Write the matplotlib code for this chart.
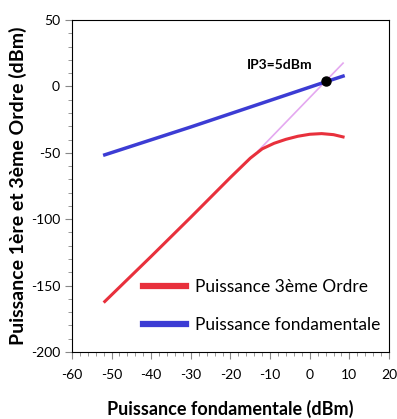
import numpy as np
import matplotlib
matplotlib.use("Agg")
import matplotlib.pyplot as plt
from matplotlib.ticker import MultipleLocator

plt.rcParams['font.family'] = ['Lato', 'DejaVu Sans']
plt.rcParams['axes.unicode_minus'] = False

# Fundamental output power (dBm) vs input power
fund_x = [-51.7, -30, -10, 4, 8.4]
fund_y = [-51.5, -30.5, -10.5, 3.5, 7.8]

# Third order output power (dBm)
third_x = [-51.7, -40, -30, -20, -15, -12, -9, -6, -3, 0, 3, 6, 8.4]
third_y = [-162, -128, -98.5, -68.5, -54, -47, -42.8, -39.8, -37.5, -36, -35.5, -36.3, -38]

# Extrapolated third order (slope 3)
extrap_x = [-13, 8.4]
extrap_y = [-48.5, 17.6]

ip3_x, ip3_y = 4, 4

fig = plt.figure(figsize=(3.97, 4.19), dpi=100)
ax = fig.add_axes([0.181, 0.160, 0.799, 0.792])

ax.plot(extrap_x, extrap_y, color='#e4a8f0', lw=1.2, zorder=2)
ax.plot(third_x, third_y, color='#e8303c', lw=2.2, zorder=3, label='Puissance 3ème Ordre')
ax.plot(fund_x, fund_y, color='#3c3cd4', lw=2.5, zorder=3, label='Puissance fondamentale')
ax.plot([ip3_x], [ip3_y], 'o', color='black', ms=6.5, zorder=4)
ax.text(-7.5, 16, 'IP3=5dBm', ha='center', va='center', fontsize=10, fontweight='bold')

ax.set_xlim(-60, 20)
ax.set_ylim(-200, 50)
ax.xaxis.set_major_locator(MultipleLocator(10))
ax.xaxis.set_minor_locator(MultipleLocator(2))
ax.yaxis.set_major_locator(MultipleLocator(50))
ax.yaxis.set_minor_locator(MultipleLocator(10))
ax.tick_params(which='both', direction='out', color='#888888', labelsize=10)
ax.tick_params(which='major', length=5)
ax.tick_params(which='minor', length=3)
ax.tick_params(axis='x', pad=7)

ax.set_xlabel('Puissance fondamentale (dBm)', fontsize=13, fontweight='bold', labelpad=14)
ax.set_ylabel('Puissance 1ère et 3ème Ordre (dBm)', fontsize=14, fontweight='bold', labelpad=3)

leg = ax.legend(loc='upper left', bbox_to_anchor=(0.224, 0.22), frameon=False,
                fontsize=12.5, handlelength=2.5, handletextpad=0.5,
                labelspacing=1.25, borderpad=0, borderaxespad=0)
for line in leg.get_lines():
    line.set_linewidth(4.5)

fig.savefig('out.png', dpi=100)
